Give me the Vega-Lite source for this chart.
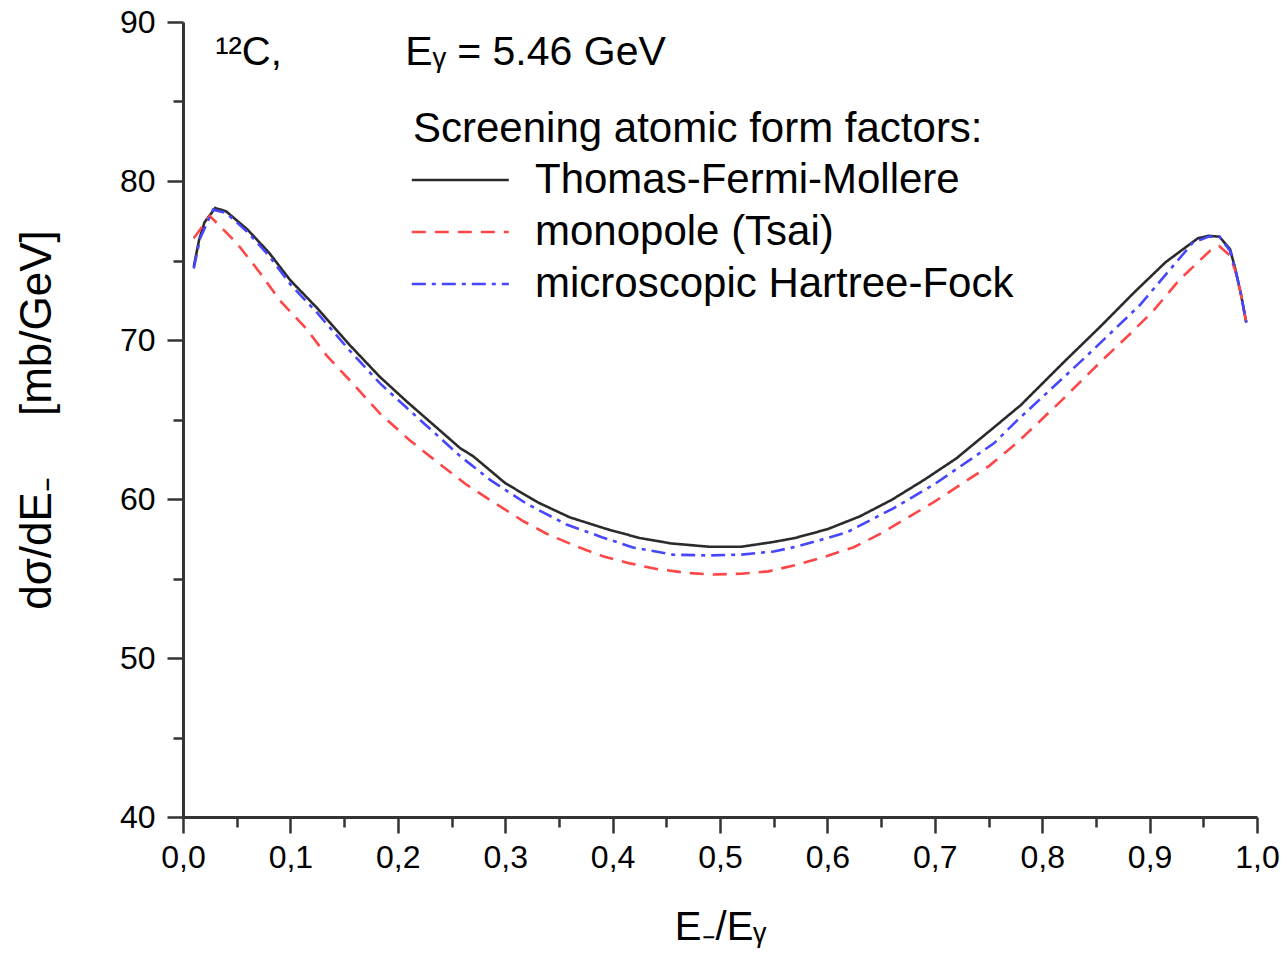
{
  "$schema": "https://vega.github.io/schema/vega-lite/v6.json",
  "width": 1074,
  "height": 795,
  "autosize": {"type": "none"},
  "padding": {"left": 183, "top": 22, "right": 30, "bottom": 148},
  "background": "white",
  "config": {"view": {"stroke": null}, "font": "Liberation Sans", "axis": {"grid": false}},
  "datasets": {
    "curves": [
      {"model": "Thomas-Fermi-Mollere", "x": 0.01, "y": 74.6},
      {"model": "Thomas-Fermi-Mollere", "x": 0.015, "y": 76.3},
      {"model": "Thomas-Fermi-Mollere", "x": 0.02, "y": 77.4},
      {"model": "Thomas-Fermi-Mollere", "x": 0.03, "y": 78.3},
      {"model": "Thomas-Fermi-Mollere", "x": 0.04, "y": 78.1},
      {"model": "Thomas-Fermi-Mollere", "x": 0.06, "y": 76.95},
      {"model": "Thomas-Fermi-Mollere", "x": 0.08, "y": 75.5},
      {"model": "Thomas-Fermi-Mollere", "x": 0.1, "y": 73.75},
      {"model": "Thomas-Fermi-Mollere", "x": 0.125, "y": 72.0},
      {"model": "Thomas-Fermi-Mollere", "x": 0.155, "y": 69.7},
      {"model": "Thomas-Fermi-Mollere", "x": 0.183, "y": 67.7},
      {"model": "Thomas-Fermi-Mollere", "x": 0.208, "y": 66.15},
      {"model": "Thomas-Fermi-Mollere", "x": 0.236, "y": 64.5},
      {"model": "Thomas-Fermi-Mollere", "x": 0.258, "y": 63.2},
      {"model": "Thomas-Fermi-Mollere", "x": 0.27, "y": 62.7},
      {"model": "Thomas-Fermi-Mollere", "x": 0.3, "y": 61.0},
      {"model": "Thomas-Fermi-Mollere", "x": 0.33, "y": 59.8},
      {"model": "Thomas-Fermi-Mollere", "x": 0.36, "y": 58.85},
      {"model": "Thomas-Fermi-Mollere", "x": 0.395, "y": 58.1},
      {"model": "Thomas-Fermi-Mollere", "x": 0.425, "y": 57.55},
      {"model": "Thomas-Fermi-Mollere", "x": 0.455, "y": 57.2},
      {"model": "Thomas-Fermi-Mollere", "x": 0.49, "y": 57.0},
      {"model": "Thomas-Fermi-Mollere", "x": 0.52, "y": 57.0},
      {"model": "Thomas-Fermi-Mollere", "x": 0.55, "y": 57.3},
      {"model": "Thomas-Fermi-Mollere", "x": 0.57, "y": 57.55},
      {"model": "Thomas-Fermi-Mollere", "x": 0.6, "y": 58.1},
      {"model": "Thomas-Fermi-Mollere", "x": 0.63, "y": 58.9},
      {"model": "Thomas-Fermi-Mollere", "x": 0.66, "y": 59.95},
      {"model": "Thomas-Fermi-Mollere", "x": 0.69, "y": 61.2},
      {"model": "Thomas-Fermi-Mollere", "x": 0.72, "y": 62.55},
      {"model": "Thomas-Fermi-Mollere", "x": 0.755, "y": 64.5},
      {"model": "Thomas-Fermi-Mollere", "x": 0.78, "y": 65.9},
      {"model": "Thomas-Fermi-Mollere", "x": 0.82, "y": 68.6},
      {"model": "Thomas-Fermi-Mollere", "x": 0.855, "y": 70.9},
      {"model": "Thomas-Fermi-Mollere", "x": 0.885, "y": 72.95},
      {"model": "Thomas-Fermi-Mollere", "x": 0.915, "y": 74.9},
      {"model": "Thomas-Fermi-Mollere", "x": 0.945, "y": 76.4},
      {"model": "Thomas-Fermi-Mollere", "x": 0.955, "y": 76.55},
      {"model": "Thomas-Fermi-Mollere", "x": 0.965, "y": 76.5},
      {"model": "Thomas-Fermi-Mollere", "x": 0.975, "y": 75.7},
      {"model": "Thomas-Fermi-Mollere", "x": 0.98, "y": 74.4},
      {"model": "Thomas-Fermi-Mollere", "x": 0.985, "y": 72.9},
      {"model": "Thomas-Fermi-Mollere", "x": 0.99, "y": 71.1},
      {"model": "monopole (Tsai)", "x": 0.01, "y": 76.4},
      {"model": "monopole (Tsai)", "x": 0.025, "y": 77.8},
      {"model": "monopole (Tsai)", "x": 0.05, "y": 76.1},
      {"model": "monopole (Tsai)", "x": 0.072, "y": 74.2},
      {"model": "monopole (Tsai)", "x": 0.09, "y": 72.5},
      {"model": "monopole (Tsai)", "x": 0.115, "y": 70.7},
      {"model": "monopole (Tsai)", "x": 0.134, "y": 69.0},
      {"model": "monopole (Tsai)", "x": 0.159, "y": 67.2},
      {"model": "monopole (Tsai)", "x": 0.183, "y": 65.4},
      {"model": "monopole (Tsai)", "x": 0.211, "y": 63.7},
      {"model": "monopole (Tsai)", "x": 0.239, "y": 62.2},
      {"model": "monopole (Tsai)", "x": 0.264, "y": 60.9},
      {"model": "monopole (Tsai)", "x": 0.289, "y": 59.8},
      {"model": "monopole (Tsai)", "x": 0.317, "y": 58.6},
      {"model": "monopole (Tsai)", "x": 0.339, "y": 57.8},
      {"model": "monopole (Tsai)", "x": 0.367, "y": 57.0},
      {"model": "monopole (Tsai)", "x": 0.391, "y": 56.4},
      {"model": "monopole (Tsai)", "x": 0.416, "y": 55.95},
      {"model": "monopole (Tsai)", "x": 0.441, "y": 55.6},
      {"model": "monopole (Tsai)", "x": 0.469, "y": 55.35},
      {"model": "monopole (Tsai)", "x": 0.494, "y": 55.25},
      {"model": "monopole (Tsai)", "x": 0.52, "y": 55.3},
      {"model": "monopole (Tsai)", "x": 0.545, "y": 55.45},
      {"model": "monopole (Tsai)", "x": 0.571, "y": 55.85},
      {"model": "monopole (Tsai)", "x": 0.599, "y": 56.4},
      {"model": "monopole (Tsai)", "x": 0.624, "y": 56.95},
      {"model": "monopole (Tsai)", "x": 0.649, "y": 57.8},
      {"model": "monopole (Tsai)", "x": 0.699, "y": 59.8},
      {"model": "monopole (Tsai)", "x": 0.751, "y": 62.1},
      {"model": "monopole (Tsai)", "x": 0.776, "y": 63.5},
      {"model": "monopole (Tsai)", "x": 0.815, "y": 66.0},
      {"model": "monopole (Tsai)", "x": 0.857, "y": 68.8},
      {"model": "monopole (Tsai)", "x": 0.879, "y": 70.2},
      {"model": "monopole (Tsai)", "x": 0.903, "y": 71.8},
      {"model": "monopole (Tsai)", "x": 0.928, "y": 73.8},
      {"model": "monopole (Tsai)", "x": 0.956, "y": 75.6},
      {"model": "monopole (Tsai)", "x": 0.965, "y": 75.9},
      {"model": "monopole (Tsai)", "x": 0.975, "y": 75.3},
      {"model": "monopole (Tsai)", "x": 0.98, "y": 74.3},
      {"model": "monopole (Tsai)", "x": 0.985, "y": 72.9},
      {"model": "monopole (Tsai)", "x": 0.99, "y": 71.1},
      {"model": "microscopic Hartree-Fock", "x": 0.01, "y": 74.5},
      {"model": "microscopic Hartree-Fock", "x": 0.016, "y": 76.4},
      {"model": "microscopic Hartree-Fock", "x": 0.028, "y": 78.2},
      {"model": "microscopic Hartree-Fock", "x": 0.04, "y": 78.0},
      {"model": "microscopic Hartree-Fock", "x": 0.06, "y": 76.8},
      {"model": "microscopic Hartree-Fock", "x": 0.08, "y": 75.3},
      {"model": "microscopic Hartree-Fock", "x": 0.1, "y": 73.5},
      {"model": "microscopic Hartree-Fock", "x": 0.125, "y": 71.7},
      {"model": "microscopic Hartree-Fock", "x": 0.155, "y": 69.35},
      {"model": "microscopic Hartree-Fock", "x": 0.183, "y": 67.3},
      {"model": "microscopic Hartree-Fock", "x": 0.208, "y": 65.75},
      {"model": "microscopic Hartree-Fock", "x": 0.236, "y": 64.05},
      {"model": "microscopic Hartree-Fock", "x": 0.258, "y": 62.7},
      {"model": "microscopic Hartree-Fock", "x": 0.286, "y": 61.2},
      {"model": "microscopic Hartree-Fock", "x": 0.32, "y": 59.7},
      {"model": "microscopic Hartree-Fock", "x": 0.357, "y": 58.4},
      {"model": "microscopic Hartree-Fock", "x": 0.39, "y": 57.6},
      {"model": "microscopic Hartree-Fock", "x": 0.419, "y": 56.95},
      {"model": "microscopic Hartree-Fock", "x": 0.456, "y": 56.5},
      {"model": "microscopic Hartree-Fock", "x": 0.49, "y": 56.45},
      {"model": "microscopic Hartree-Fock", "x": 0.52, "y": 56.5},
      {"model": "microscopic Hartree-Fock", "x": 0.55, "y": 56.7},
      {"model": "microscopic Hartree-Fock", "x": 0.571, "y": 57.0},
      {"model": "microscopic Hartree-Fock", "x": 0.6, "y": 57.55},
      {"model": "microscopic Hartree-Fock", "x": 0.618, "y": 57.9},
      {"model": "microscopic Hartree-Fock", "x": 0.661, "y": 59.4},
      {"model": "microscopic Hartree-Fock", "x": 0.699, "y": 60.9},
      {"model": "microscopic Hartree-Fock", "x": 0.755, "y": 63.5},
      {"model": "microscopic Hartree-Fock", "x": 0.776, "y": 64.9},
      {"model": "microscopic Hartree-Fock", "x": 0.8415, "y": 69.0},
      {"model": "microscopic Hartree-Fock", "x": 0.891, "y": 72.2},
      {"model": "microscopic Hartree-Fock", "x": 0.94, "y": 76.1},
      {"model": "microscopic Hartree-Fock", "x": 0.955, "y": 76.5},
      {"model": "microscopic Hartree-Fock", "x": 0.965, "y": 76.5},
      {"model": "microscopic Hartree-Fock", "x": 0.975, "y": 75.6},
      {"model": "microscopic Hartree-Fock", "x": 0.98, "y": 74.4},
      {"model": "microscopic Hartree-Fock", "x": 0.985, "y": 72.9},
      {"model": "microscopic Hartree-Fock", "x": 0.99, "y": 71.1}
    ]
  },
  "layer": [
    {
      "data": {"name": "curves"},
      "mark": {"type": "line", "strokeWidth": 2.6},
      "encoding": {
        "x": {
          "field": "x", "type": "quantitative",
          "scale": {"domain": [0, 1], "nice": false},
          "axis": {
            "orient": "bottom",
            "values": [0, 0.1, 0.2, 0.3, 0.4, 0.5, 0.6, 0.7, 0.8, 0.9, 1.0],
            "labelExpr": "replace(format(datum.value, '.1f'), '.', ',')",
            "labelFontSize": 32, "labelColor": "#000", "labelPadding": 9, "labelFlush": false,
            "tickSize": 16, "tickWidth": 2.5, "tickColor": "#333",
            "domainColor": "#333", "domainWidth": 3,
            "title": "E₋/Eᵧ", "titleFontSize": 40, "titleFontWeight": "normal", "titleColor": "#000", "titlePadding": 34
          }
        },
        "y": {
          "field": "y", "type": "quantitative",
          "scale": {"domain": [40, 90], "nice": false, "zero": false},
          "axis": {
            "orient": "left",
            "values": [40, 50, 60, 70, 80, 90],
            "labelFontSize": 32, "labelColor": "#000", "labelPadding": 12,
            "tickSize": 16, "tickWidth": 2.5, "tickColor": "#333",
            "domainColor": "#333", "domainWidth": 3,
            "title": "dσ/dE₋\u00a0\u00a0\u00a0\u00a0\u00a0[mb/GeV]", "titleFontSize": 44, "titleFontWeight": "normal", "titleColor": "#000", "titlePadding": 60
          }
        },
        "color": {
          "field": "model", "type": "nominal",
          "scale": {"domain": ["Thomas-Fermi-Mollere", "monopole (Tsai)", "microscopic Hartree-Fock"], "range": ["#2b2b2b", "#ff4646", "#4646ff"]},
          "legend": {
            "orient": "none", "legendX": 230, "legendY": 87, "padding": 0,
            "title": "Screening atomic form factors:", "titleFontSize": 42, "titleFontWeight": "normal", "titleColor": "#000", "titleLimit": 2000, "titlePadding": 8,
            "labelFontSize": 42, "labelColor": "#000", "labelLimit": 2000, "labelOffset": 80,
            "symbolType": "M-1.83,0H6.17", "symbolSize": 588, "symbolStrokeWidth": 2.6, "rowPadding": 10
          }
        },
        "strokeDash": {
          "field": "model", "type": "nominal",
          "scale": {"domain": ["Thomas-Fermi-Mollere", "monopole (Tsai)", "microscopic Hartree-Fock"], "range": [[1, 0], [14, 9], [14, 6, 4, 6]]},
          "legend": {
            "orient": "none", "legendX": 230, "legendY": 87, "padding": 0,
            "title": "Screening atomic form factors:", "titleFontSize": 42, "titleFontWeight": "normal", "titleColor": "#000", "titleLimit": 2000, "titlePadding": 8,
            "labelFontSize": 42, "labelColor": "#000", "labelLimit": 2000, "labelOffset": 80,
            "symbolType": "M-1.83,0H6.17", "symbolSize": 588, "symbolStrokeWidth": 2.6, "rowPadding": 10
          }
        }
      }
    },
    {
      "data": {"values": [{}]},
      "mark": {"type": "text", "align": "left", "baseline": "alphabetic", "fontSize": 40, "color": "#000"},
      "encoding": {
        "x": {
          "datum": 0.03, "type": "quantitative",
          "scale": {"domain": [0, 1], "nice": false},
          "axis": {"orient": "bottom", "values": [0.05, 0.15, 0.25, 0.35, 0.45, 0.55, 0.65, 0.75, 0.85, 0.95], "labels": false, "domain": false, "tickSize": 10, "tickWidth": 2.5, "tickColor": "#333", "title": null}
        },
        "y": {
          "datum": 87.3, "type": "quantitative",
          "scale": {"domain": [40, 90], "nice": false, "zero": false},
          "axis": {"orient": "left", "values": [45, 55, 65, 75, 85], "labels": false, "domain": false, "tickSize": 10, "tickWidth": 2.5, "tickColor": "#333", "title": null}
        },
        "text": {"value": "¹²C,"}
      }
    },
    {
      "data": {"values": [{}]},
      "mark": {"type": "text", "align": "left", "baseline": "alphabetic", "fontSize": 41, "color": "#000"},
      "encoding": {
        "x": {"datum": 0.207, "type": "quantitative", "scale": {"domain": [0, 1], "nice": false}, "axis": null},
        "y": {"datum": 87.3, "type": "quantitative", "scale": {"domain": [40, 90], "nice": false, "zero": false}, "axis": null},
        "text": {"value": "Eᵧ = 5.46 GeV"}
      }
    }
  ],
  "resolve": {"axis": {"x": "independent", "y": "independent"}}
}
